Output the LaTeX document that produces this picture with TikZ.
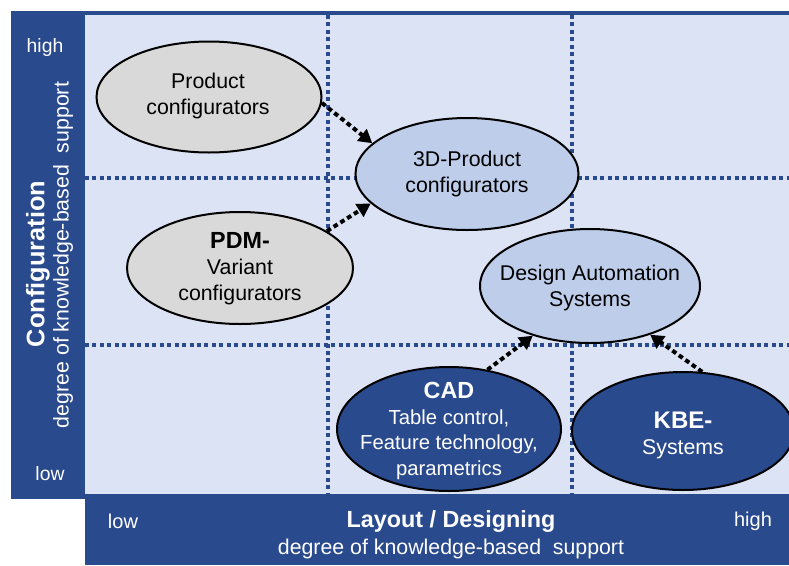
\documentclass[tikz,border=0pt]{standalone}
\usepackage{fontspec}
\setmainfont{Liberation Sans}
\usetikzlibrary{shapes.geometric,arrows.meta}
\definecolor{dblue}{HTML}{2A4A8E}
\definecolor{plotbg}{HTML}{DCE3F4}
\definecolor{lgray}{HTML}{D9D9D9}
\definecolor{lblue}{HTML}{BDCDEA}
\begin{document}
\begin{tikzpicture}[x=0.75pt,y=-0.75pt,
 ell/.style={ellipse,draw=black,line width=1.5pt,inner sep=0pt},
 grayell/.style={ell,fill=lgray},
 blueell/.style={ell,fill=lblue},
 darkell/.style={ell,fill=dblue},
 etext/.style={align=center,inner sep=0pt,font=\fontsize{16}{19.5}\selectfont},
 gridline/.style={draw=dblue,line width=2.4pt,dash pattern=on 3pt off 2.6pt},
 arr/.style={draw=black,line width=3pt,dash pattern=on 3.5pt off 2.5pt,-{Triangle[length=10pt,width=11pt]}},
 barlbl/.style={text=white,inner sep=0pt}]
\useasboundingbox (0,0) rectangle (789,565);
% bars and plot area
\fill[plotbg] (85,15) rectangle (789,494);
\fill[dblue] (11,11) rectangle (789,15);
\fill[dblue] (11,11) rectangle (85,499);
\fill[dblue] (85,494) rectangle (789,565);
% grid
\coordinate (v1t) at (328,15); \coordinate (v1b) at (328,494);
\coordinate (v2t) at (572,15); \coordinate (v2b) at (572,494);
\coordinate (h1l) at (85,178); \coordinate (h1r) at (789,178);
\coordinate (h2l) at (85,345); \coordinate (h2r) at (789,345);
\draw[gridline] (v1t) -- (v1b);
\draw[gridline] (v2t) -- (v2b);
\draw[gridline] (h1l) -- (h1r);
\draw[gridline] (h2l) -- (h2r);
% ellipses
\node[grayell,minimum width=168.75pt,minimum height=83.25pt] (prod) at (209,97) {};
\node[grayell,minimum width=169.5pt,minimum height=84pt] (pdm) at (240,268) {};
\node[blueell,minimum width=167.25pt,minimum height=84pt] (p3d) at (467,174) {};
\node[blueell,minimum width=165pt,minimum height=85.5pt] (das) at (590,286) {};
\node[darkell,minimum width=168pt,minimum height=93pt] (cad) at (449,429) {};
\node[darkell,minimum width=166.5pt,minimum height=88.5pt] (kbe) at (683,431) {};
% ellipse texts
\node[etext] (prodtxt) at (208,96) {Product\\configurators};
\node[etext] (pdmtxt) at (240,269) {{\fontsize{17.5}{19.5}\selectfont\bfseries PDM-}\\Variant\\configurators};
\node[etext] (p3dtxt) at (467,174) {3D-Product\\configurators};
\node[etext] (dastxt) at (590,288) {Design Automation\\Systems};
\node[etext,text=white,font=\fontsize{15.2}{19.3}\selectfont] (cadtxt) at (449,431) {{\fontsize{17.5}{19.3}\selectfont\bfseries CAD}\\Table control,\\Feature technology,\\parametrics};
\node[etext,text=white] (kbetxt) at (683,435) {{\fontsize{18}{20}\selectfont\bfseries KBE-}\\Systems};
% arrows
\draw[arr] (prod.-3) -- (p3d.162);
\draw[arr] (pdm.23) -- (p3d.197);
\draw[arr] (cad.57) -- (das.221);
\draw[arr] (kbe.72) -- (das.-39);
% axis labels
\node[barlbl,font=\fontsize{14.5}{17}\selectfont] (yhigh) at (45,47) {high};
\node[barlbl,font=\fontsize{14.5}{17}\selectfont] (ylow) at (50,474) {low};
\node[barlbl,rotate=90,font=\fontsize{19}{22}\selectfont\bfseries] (ytitle) at (38,264) {Configuration};
\node[barlbl,rotate=90,font=\fontsize{16}{19}\selectfont] (ysub) at (63,255) {degree of knowledge-based\hspace{0.55em}support};
\node[barlbl,font=\fontsize{15}{17}\selectfont] (xlow) at (123,521) {low};
\node[barlbl,font=\fontsize{15}{17}\selectfont] (xhigh) at (753,521) {high};
\node[barlbl,font=\fontsize{17.5}{20}\selectfont\bfseries] (xtitle) at (451,522) {Layout / Designing};
\node[barlbl,font=\fontsize{16}{19}\selectfont] (xsub) at (451,549) {degree of knowledge-based\hspace{0.55em}support};
\end{tikzpicture}
\end{document}
